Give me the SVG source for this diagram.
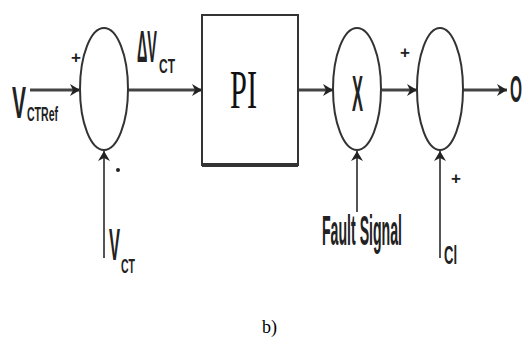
<svg xmlns="http://www.w3.org/2000/svg" width="523" height="342" viewBox="0 0 523 342">
<style>
.ln{stroke:#444;stroke-width:3;fill:none}
.vl{stroke:#555;stroke-width:2;fill:none}
.sh{stroke:#333;stroke-width:2;fill:#fff}
.lb{font-family:"Liberation Sans",Arial,sans-serif;fill:#222;font-weight:bold}
.sg{font-family:"Liberation Sans",Arial,sans-serif;fill:#222;font-size:17px;font-weight:bold}
</style>
<defs>
<marker id="ah" markerUnits="userSpaceOnUse" markerWidth="12" markerHeight="14" refX="11" refY="7" orient="auto">
<path d="M1,1 L11,7 L1,13 L4,7 z" fill="#222"/>
</marker>
</defs>
<rect width="523" height="342" fill="#fff"/>
<g id="connectors">
<line class="ln" x1="30" y1="90" x2="80" y2="90" marker-end="url(#ah)"/>
<line class="ln" x1="128" y1="90" x2="202" y2="90" marker-end="url(#ah)"/>
<line class="ln" x1="298" y1="90" x2="333" y2="90" marker-end="url(#ah)"/>
<line class="ln" x1="382" y1="90" x2="417" y2="90" marker-end="url(#ah)"/>
<line class="ln" x1="463" y1="90" x2="507" y2="90" marker-end="url(#ah)"/>
<line class="vl" x1="104" y1="258" x2="104" y2="151" marker-end="url(#ah)"/>
<line class="vl" x1="357" y1="212" x2="357" y2="151" marker-end="url(#ah)"/>
<line class="vl" x1="440" y1="258" x2="440" y2="151" marker-end="url(#ah)"/>
</g>
<g id="sum1">
<ellipse class="sh" cx="104" cy="89" rx="24" ry="61"/>
<text class="sg" x="76" y="63" text-anchor="middle">+</text>
<circle cx="118" cy="170" r="2" fill="#222"/>
</g>
<g id="pi">
<rect class="sh" x="202" y="15" width="96" height="150"/>
<line x1="202" y1="165" x2="298" y2="165" stroke="#333" stroke-width="4"/>
<text x="230" y="108" font-family="'Liberation Serif','Times New Roman',serif" font-size="54" textLength="27" lengthAdjust="spacingAndGlyphs" fill="#111">PI</text>
</g>
<g id="mult">
<ellipse class="sh" cx="357" cy="89" rx="24" ry="61"/>
<text class="lb" x="352" y="111" font-size="50" font-weight="normal" textLength="11" lengthAdjust="spacingAndGlyphs">X</text>
</g>
<g id="sum2">
<ellipse class="sh" cx="440" cy="89" rx="23" ry="61"/>
<text class="sg" x="405" y="58" text-anchor="middle">+</text>
<text class="sg" x="456" y="184" text-anchor="middle">+</text>
</g>
<g id="labels">
<text class="lb" x="12" y="118" font-size="44" textLength="14" lengthAdjust="spacingAndGlyphs">V</text>
<text class="lb" x="27" y="121" font-size="21" textLength="31" lengthAdjust="spacingAndGlyphs">CTRef</text>
<text class="lb" x="137" y="62" font-size="44" textLength="20" lengthAdjust="spacingAndGlyphs">ΔV</text>
<text class="lb" x="159" y="73" font-size="21" textLength="16" lengthAdjust="spacingAndGlyphs">CT</text>
<text class="lb" x="109" y="260" font-size="44" textLength="11" lengthAdjust="spacingAndGlyphs">V</text>
<text class="lb" x="121" y="273" font-size="21" textLength="14" lengthAdjust="spacingAndGlyphs">CT</text>
<text class="lb" x="322" y="245" font-size="42" textLength="80" lengthAdjust="spacingAndGlyphs">Fault Signal</text>
<text class="lb" x="444" y="264" font-size="26" textLength="13" lengthAdjust="spacingAndGlyphs">Cl</text>
<text class="lb" x="510" y="102" font-size="36" font-weight="normal" textLength="12" lengthAdjust="spacingAndGlyphs">O</text>
<text x="262" y="333" font-family="'Liberation Serif','Times New Roman',serif" font-size="18" fill="#000">b)</text>
</g>
</svg>
